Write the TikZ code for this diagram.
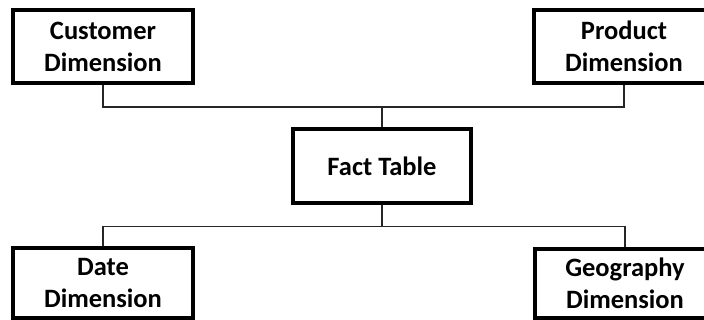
\documentclass[tikz,border=0pt]{standalone}
\usepackage{fontspec}
\setmainfont{Carlito}
\begin{document}
\begin{tikzpicture}[x=1pt,y=1pt,
  dimbox/.style={draw=black, line width=3.5pt, fill=white, align=center,
    inner sep=0pt, font=\fontsize{26.5}{32}\selectfont\bfseries},
  conn/.style={draw=black!85, line width=1.8pt}]
\useasboundingbox (0,0) rectangle (704,320);
\fill[white] (0,0) rectangle (704,320);
\coordinate (hu) at (0,213);
\coordinate (hl) at (0,93.5);
\node[dimbox, minimum width=180pt, minimum height=73pt] (cust) at (103,273.5) {Customer\\Dimension};
\node[dimbox, minimum width=180pt, minimum height=73pt] (prod) at (624,273.5) {Product\\Dimension};
\node[dimbox, minimum width=178pt, minimum height=74pt] (fact) at (382,154) {Fact Table};
\node[dimbox, minimum width=180pt, minimum height=70pt] (date) at (103,37) {Date\\Dimension};
\node[dimbox, minimum width=180pt, minimum height=69pt] (geo) at (625,36.5) {Geography\\Dimension};
\draw[conn] (cust.south) -- (cust.south |- hu) -- (prod.south |- hu) -- (prod.south);
\draw[conn] (fact.north) -- (fact.north |- hu);
\draw[conn] (fact.south) -- (fact.south |- hl);
\draw[conn] (date.north) -- (date.north |- hl) -- (geo.north |- hl) -- (geo.north);
\end{tikzpicture}
\end{document}
